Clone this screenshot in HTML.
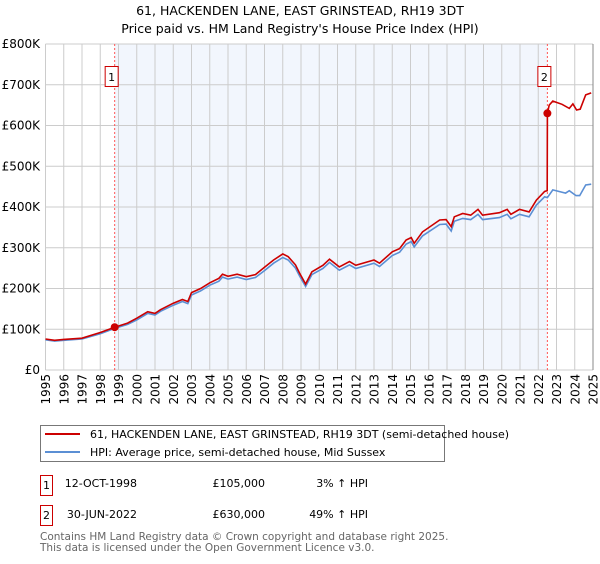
<!DOCTYPE html>
<html><head><meta charset="utf-8"><style>
body{margin:0;background:#fff;font-family:"DejaVu Sans","Liberation Sans",sans-serif;}
svg text{font-family:"DejaVu Sans","Liberation Sans",sans-serif;}
</style></head><body>
<svg id="c" width="600" height="560" xmlns="http://www.w3.org/2000/svg">
<text x="300" y="15" text-anchor="middle" font-size="12.5">61, HACKENDEN LANE, EAST GRINSTEAD, RH19 3DT</text>
<text x="300" y="33" text-anchor="middle" font-size="12.5">Price paid vs. HM Land Registry's House Price Index (HPI)</text>
<g id="plot"></g>
<g>
<rect x="40.5" y="425.5" width="404" height="36" fill="#fff" stroke="#777"/>
<line x1="45" y1="434" x2="80" y2="434" stroke="#cc0000" stroke-width="2"/>
<text x="90" y="438" font-size="11">61, HACKENDEN LANE, EAST GRINSTEAD, RH19 3DT (semi-detached house)</text>
<line x1="45" y1="452" x2="80" y2="452" stroke="#5b8fd4" stroke-width="2"/>
<text x="90" y="456" font-size="11">HPI: Average price, semi-detached house, Mid Sussex</text>
</g>
<g font-size="11">
<rect x="40.5" y="475.5" width="12" height="20" fill="#fff" stroke="#cc0000"/>
<text x="46.5" y="489" text-anchor="middle">1</text>
<text x="137" y="487" text-anchor="end">12-OCT-1998</text>
<text x="265" y="487" text-anchor="end">£105,000</text>
<text x="368" y="487" text-anchor="end">3% ↑ HPI</text>
<rect x="40.5" y="505.5" width="12" height="20" fill="#fff" stroke="#cc0000"/>
<text x="46.5" y="519" text-anchor="middle">2</text>
<text x="137" y="518" text-anchor="end">30-JUN-2022</text>
<text x="265" y="518" text-anchor="end">£630,000</text>
<text x="368" y="518" text-anchor="end">49% ↑ HPI</text>
</g>
<text x="40" y="540" font-size="10.5" fill="#666">Contains HM Land Registry data © Crown copyright and database right 2025.</text>
<text x="40" y="551" font-size="10.5" fill="#666">This data is licensed under the Open Government Licence v3.0.</text>
</svg>
<script>
const yTicks=[0,100,200,300,400,500,600,700,800];
const yTickLabels=["£0","£100K","£200K","£300K","£400K","£500K","£600K","£700K","£800K"];
const years=[1995,1996,1997,1998,1999,2000,2001,2002,2003,2004,2005,2006,2007,2008,2009,2010,2011,2012,2013,2014,2015,2016,2017,2018,2019,2020,2021,2022,2023,2024,2025];
const priceDates=[1995,1995.5,1996,1997,1998,1998.79,1999.5,2000,2000.6,2001,2001.3,2002,2002.5,2002.8,2003,2003.5,2004,2004.5,2004.7,2005,2005.5,2006,2006.5,2007,2007.5,2008,2008.3,2008.7,2008.92,2009.25,2009.6,2010.2,2010.56,2011.1,2011.66,2012.0,2013.0,2013.3,2014.0,2014.4,2014.76,2015.04,2015.2,2015.66,2016.6,2016.95,2017.23,2017.4,2017.86,2018.3,2018.7,2018.95,2019.87,2020.3,2020.5,2020.97,2021.5,2021.9,2022.35,2022.49,2022.5,2022.6,2022.8,2023.3,2023.7,2023.9,2024.1,2024.3,2024.6,2024.9];
const priceValues=[76,73,75,78,92,105,115,127,143,139,148,164,173,168,190,200,214,225,235,230,235,229,234,252,270,285,278,258,238,211,241,257,272,253,266,257,270,262,290,298,319,325,311,339,368,369,352,376,384,380,394,380,386,394,382,394,388,417,438,440,630,650,660,652,642,653,638,640,675,680];
const hpiDates=[1995,1995.5,1996,1997,1998,1998.79,1999.5,2000,2000.6,2001,2001.3,2002,2002.5,2002.8,2003,2003.5,2004,2004.5,2004.7,2005,2005.5,2006,2006.5,2007,2007.5,2008,2008.3,2008.7,2008.92,2009.25,2009.6,2010.2,2010.56,2011.1,2011.66,2012.0,2013.0,2013.3,2014.0,2014.4,2014.76,2015.04,2015.2,2015.66,2016.6,2016.95,2017.23,2017.4,2017.86,2018.3,2018.7,2018.95,2019.87,2020.3,2020.5,2020.97,2021.5,2021.9,2022.35,2022.5,2022.8,2023.5,2023.7,2024.07,2024.27,2024.6,2024.9];
const hpiValues=[74,71,73,76,89,102,112,123,139,135,144,159,168,163,184,194,208,218,228,223,228,222,227,244,262,276,270,250,231,205,234,249,264,245,258,249,262,254,281,289,309,315,302,329,357,358,341,365,372,369,382,369,374,382,371,382,376,405,425,423,442,434,440,428,428,454,456];
const saleDates=[1998.79,2022.5];
const saleValues=[105,630];
const saleLabels=["1","2"];

const L=45.5,R=593,T=44,B=370;
const x=d=>L+(d-1995)/30*(R-L);
const y=v=>B-v/800*(B-T);
const NS="http://www.w3.org/2000/svg";
const g=document.getElementById('plot');
function mk(t,a){const e=document.createElementNS(NS,t);for(const k in a)e.setAttribute(k,a[k]);g.appendChild(e);return e;}
let e=mk('rect',{x:x(saleDates[0]),y:T,width:x(saleDates[1])-x(saleDates[0]),height:B-T,fill:'#f2f6fd'});


yTicks.forEach((v,i)=>{
 let l=mk('line',{x1:L,x2:R,y1:y(v),y2:y(v),stroke:'#cccccc'});
 
 
 let t=mk('text',{x:40,y:y(v)+4,'text-anchor':'end','font-size':'12'});
 t.textContent=yTickLabels[i];
 
 
});
years.forEach(yr=>{
 let l=mk('line',{x1:x(yr),x2:x(yr),y1:T,y2:B,stroke:'#cccccc'});
 
 
 let t=mk('text',{x:0,y:0,'text-anchor':'end','font-size':'12',transform:`translate(${x(yr)+4.5},374) rotate(-90)`});
 t.textContent=yr;
 
 
});
e=mk('line',{x1:R,x2:R,y1:T,y2:B,stroke:'#888'});


saleDates.forEach((d,i)=>{
 let l=mk('line',{x1:x(d),x2:x(d),y1:T,y2:B,stroke:'#ff5555','stroke-dasharray':'2,2'});
 
 
});
const pts=(ds,vs)=>ds.map((d,i)=>x(d).toFixed(1)+','+y(vs[i]).toFixed(1)).join(' ');
e=mk('polyline',{points:pts(hpiDates,hpiValues),fill:'none',stroke:'#5b8fd4','stroke-width':'1.6'});


e=mk('polyline',{points:pts(priceDates,priceValues),fill:'none',stroke:'#cc0000','stroke-width':'1.6'});


saleDates.forEach((d,i)=>{
 let c=mk('circle',{cx:x(d),cy:y(saleValues[i]),r:4,fill:'#cc0000'});
 
 
 let r=mk('rect',{x:x(d)-9.5,y:66.5,width:13,height:20,fill:'#fff',stroke:'#cc0000'});
 
 
 let t=mk('text',{x:x(d)-3,y:81,'text-anchor':'middle','font-size':'11'});
 t.textContent=saleLabels[i];
 
 
});
</script>
</body></html>
